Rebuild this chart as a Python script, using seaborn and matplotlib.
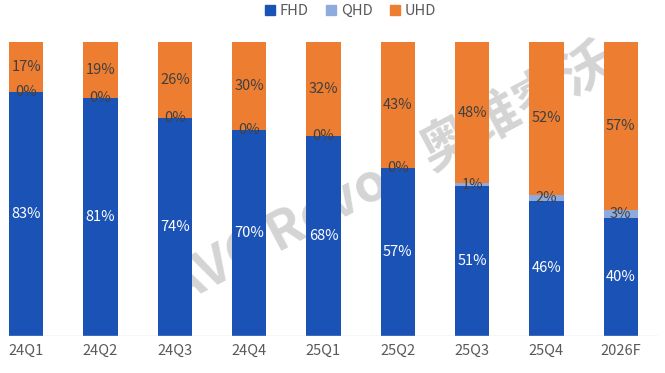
import numpy as np
import pandas as pd
import seaborn as sns
import matplotlib.pyplot as plt
from matplotlib.patches import Patch

# dados
periodos = ['24Q1', '24Q2', '24Q3', '24Q4', '25Q1', '25Q2', '25Q3', '25Q4', '2026F']
fhd = [83, 81, 74, 70, 68, 57, 51, 46, 40]
qhd = [0, 0, 0, 0, 0, 0, 1, 2, 3]
uhd = [17, 19, 26, 30, 32, 43, 48, 52, 57]

cor_fhd = '#1A53B5'
cor_qhd = '#8FAADC'
cor_uhd = '#ED7D31'

sns.set_style('white')
plt.rcParams['font.family'] = ['Noto Sans CJK SC', 'DejaVu Sans']

dt = pd.DataFrame({'periodo': periodos, 'FHD': fhd, 'QHD': qhd, 'UHD': uhd})
dt['fhd_qhd'] = dt.FHD + dt.QHD
dt['total'] = dt.fhd_qhd + dt.UHD

fig = plt.figure(figsize=(6.65, 3.73), dpi=100)
ax = fig.add_axes([-11 / 665, 37 / 373, 669 / 665, 294 / 373])

# marca d'água (atrás das barras)
ax.text(0.6, 0.55, 'AVC Revo / 奥维睿沃', rotation=28, fontsize=38,
        color='#D4D4D4', ha='center', va='center', fontweight='bold',
        transform=ax.transAxes, zorder=0.5)

# barras empilhadas (total -> fhd+qhd -> fhd)
largura = 0.46
sns.barplot(data=dt, x='periodo', y='total', color=cor_uhd, width=largura,
            saturation=1, linewidth=0, ax=ax)
sns.barplot(data=dt, x='periodo', y='fhd_qhd', color=cor_qhd, width=largura,
            saturation=1, linewidth=0, ax=ax)
sns.barplot(data=dt, x='periodo', y='FHD', color=cor_fhd, width=largura,
            saturation=1, linewidth=0, ax=ax)

# rótulos
for i, row in dt.iterrows():
    ax.text(i, row.FHD / 2, f'{row.FHD}%', ha='center', va='center',
            color='white', fontsize=10.5, zorder=5)
    ax.text(i, row.FHD + row.QHD / 2, f'{row.QHD}%', ha='center', va='center',
            color='#404040', fontsize=10.5, zorder=5)
    ax.text(i, row.fhd_qhd + row.UHD / 2, f'{row.UHD}%', ha='center',
            va='center', color='#404040', fontsize=10.5, zorder=5)

ax.set_xlim(-0.5, 8.5)
ax.set_ylim(0, 100)
ax.set_xlabel('')
ax.set_ylabel('')
ax.set_yticks([])
ax.tick_params(axis='x', length=0, labelsize=10.5, labelcolor='#595959', pad=6)
sns.despine(ax=ax, left=True, bottom=True)
ax.axhline(0, xmin=19 / 669, xmax=1, color='#D9D9D9', lw=1)

# legenda
handles = [Patch(color=cor_fhd, label='FHD'),
           Patch(color=cor_qhd, label='QHD'),
           Patch(color=cor_uhd, label='UHD')]
fig.legend(handles=handles, loc='center', bbox_to_anchor=(0.527, 0.97),
           ncol=3, frameon=False, fontsize=10.5, handlelength=0.7,
           handleheight=0.7, handletextpad=0.3, columnspacing=1.2,
           labelcolor='#595959')

plt.savefig('out.png', dpi=100)
